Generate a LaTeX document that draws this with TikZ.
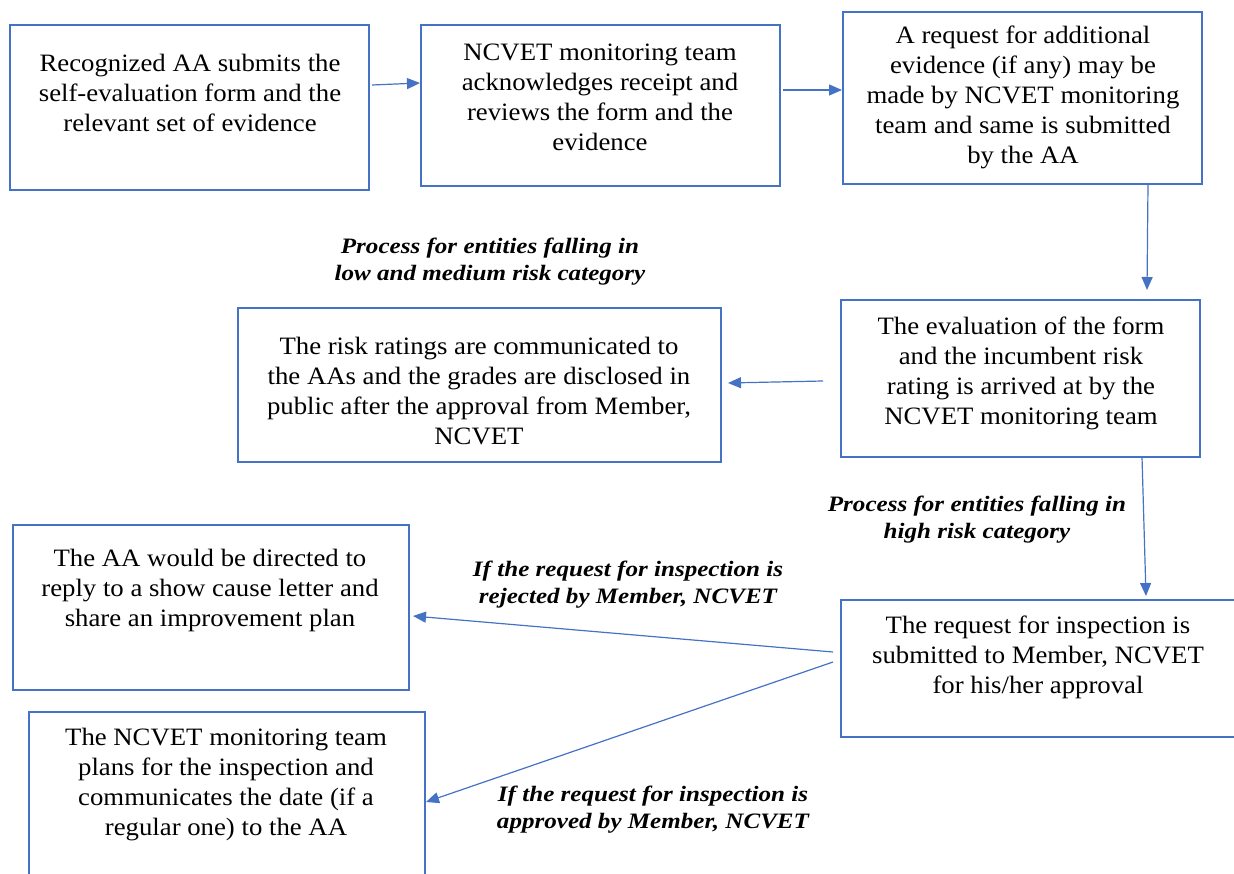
\documentclass[tikz,border=0pt]{standalone}
\usepackage{fontspec}
\setmainfont{Liberation Serif}
\newfontfamily\boxfont[FakeStretch=1.07]{Liberation Serif}
\newfontfamily\condfont[FakeStretch=1.14]{Liberation Serif}
\usetikzlibrary{arrows.meta,calc}
\definecolor{boxblue}{HTML}{4472C4}
\tikzset{
  stepbox/.style={draw=boxblue, line width=2.4pt, rectangle, inner sep=0pt, outer sep=0pt},
  boxtext/.style={align=center, font=\boxfont\fontsize{25}{30}\selectfont, inner sep=0pt},
  cond/.style={align=center, font=\condfont\fontsize{22}{27}\selectfont\bfseries\itshape, inner sep=0pt},
  conn/.style={draw=boxblue, line width=1.2pt, -{Triangle[length=13pt,width=11pt]}}
}
\begin{document}
\begin{tikzpicture}[x=1pt,y=-1pt]
\useasboundingbox (0,0) rectangle (1234,874);
\clip (0,0) rectangle (1234,874);
% boxes
\node[stepbox, minimum width=359pt, minimum height=165pt, anchor=north west] (b1) at (10,25) {};
\node[stepbox, minimum width=359pt, minimum height=161pt, anchor=north west] (b2) at (421,25) {};
\node[stepbox, minimum width=359pt, minimum height=172pt, anchor=north west] (b3) at (843,12) {};
\node[stepbox, minimum width=359pt, minimum height=157pt, anchor=north west] (b4) at (841,300) {};
\node[stepbox, minimum width=483pt, minimum height=154pt, anchor=north west] (b5) at (238,308) {};
\node[stepbox, minimum width=396pt, minimum height=165pt, anchor=north west] (b6) at (13,525) {};
\node[stepbox, minimum width=396pt, minimum height=190pt, anchor=north west] (b7) at (29,712) {};
\node[stepbox, minimum width=395pt, minimum height=137pt, anchor=north west] (b8) at (841,600) {};
% texts
\node[boxtext] (t1) at (190,93) {Recognized AA submits the\\self-evaluation form and the\\relevant set of evidence};
\node[boxtext] (t2) at (600,97) {NCVET monitoring team\\acknowledges receipt and\\reviews the form and the\\evidence};
\node[boxtext] (t3) at (1023,97) {A request for additional\\evidence (if any) may be\\made by NCVET monitoring\\team and same is submitted\\by the AA};
\node[boxtext] (t4) at (1021,373) {The evaluation of the form\\and the incumbent risk\\rating is arrived at by the\\NCVET monitoring team};
\node[boxtext] (t5) at (479,391) {The risk ratings are communicated to\\the AAs and the grades are disclosed in\\public after the approval from Member,\\NCVET};
\node[boxtext] (t6) at (210,590) {The AA would be directed to\\reply to a show cause letter and\\share an improvement plan};
\node[boxtext] (t7) at (226,785) {The NCVET monitoring team\\plans for the inspection and\\communicates the date (if a\\regular one) to the AA};
\node[boxtext] (t8) at (1038,657) {The request for inspection is\\submitted to Member, NCVET\\for his/her approval};
% condition labels
\node[cond] (l1) at (490,262) {Process for entities falling in\\low and medium risk category};
\node[cond] (l2) at (977,520) {Process for entities falling in\\high risk category};
\node[cond] (l3) at (628,585) {If the request for inspection is\\rejected by Member, NCVET};
\node[cond] (l4) at (653,810) {If the request for inspection is\\approved by Member, NCVET};
% connectors
\draw[conn] ($(b1.north east)+(3,60)$) -- ($(b2.north west)+(-1,58)$);
\draw[conn] ($(b2.north east)+(3,65)$) -- ($(b3.north west)+(-1,78)$);
\draw[conn] ($(b3.south west)+(305,0)$) -- ($(b4.north west)+(306,-10)$);
\draw[conn] ($(b4.north west)+(-18,81)$) -- ($(b5.north east)+(7,75)$);
\draw[conn] ($(b4.south west)+(301,0)$) -- ($(b8.north west)+(305,-4)$);
\draw[conn] ($(b8.north west)+(-8,52)$) -- ($(b6.north east)+(4,91)$);
\draw[conn] ($(b8.north west)+(-8,62)$) -- ($(b7.north east)+(1,90)$);
\end{tikzpicture}
\end{document}
